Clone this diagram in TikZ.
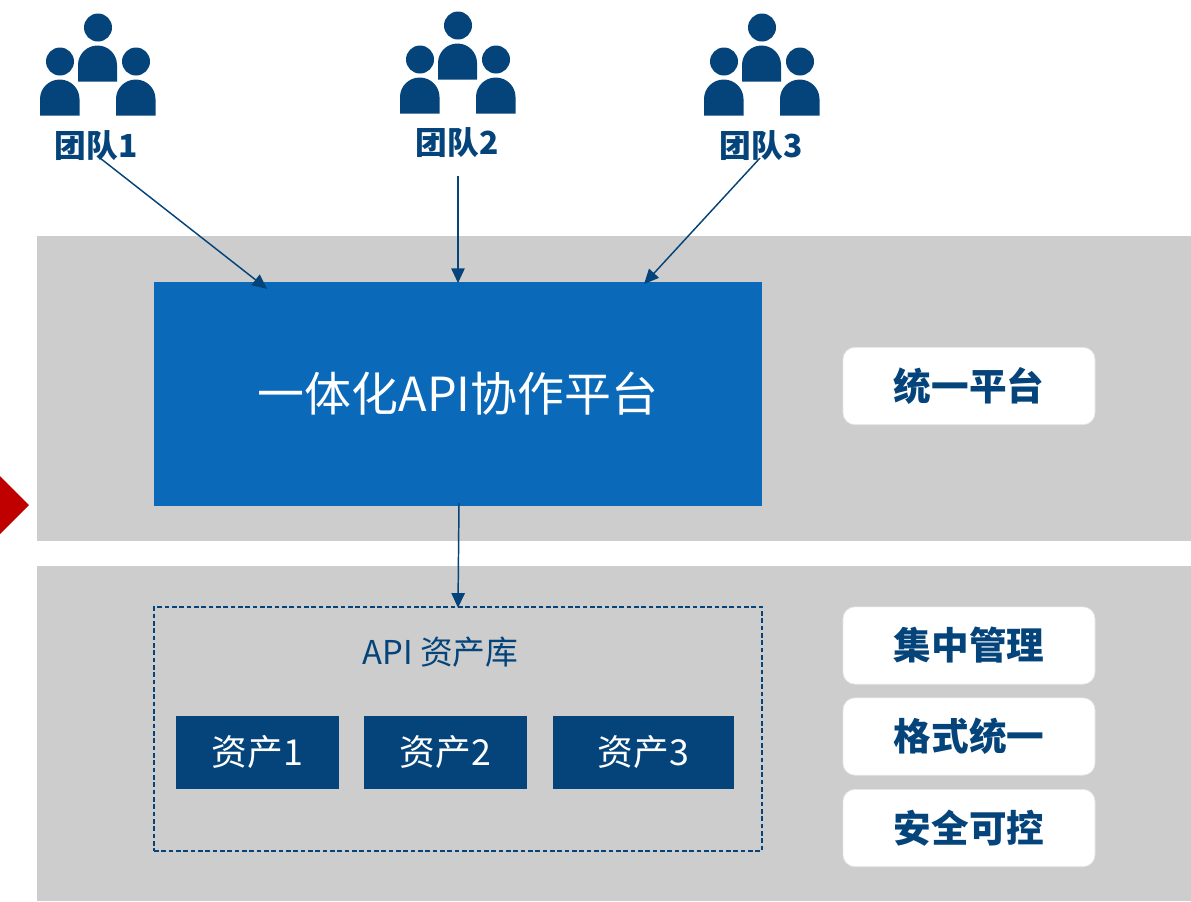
\documentclass[tikz,border=0pt]{standalone}
\usepackage{fontspec}
\setmainfont{Noto Sans CJK SC}
\usetikzlibrary{arrows.meta}
\definecolor{navy}{HTML}{04447A}
\definecolor{platblue}{HTML}{0B69B9}
\definecolor{band}{HTML}{CDCDCD}
\definecolor{redm}{HTML}{C00000}
\tikzset{
  x=0.75pt,y=-0.75pt,
  bandbox/.style={fill=band,draw=none},
  teamlabel/.style={text=navy,font=\fontsize{23.8}{26}\selectfont\bfseries,inner sep=0pt},
  flow/.style={draw=navy,line width=1.1pt,-{Triangle[length=11pt,width=10pt]},shorten >=-1pt},
  assetbox/.style={fill=navy,text=white,font=\fontsize{26.8}{30}\selectfont,minimum height=54.75pt,inner sep=0pt},
  tagbox/.style={fill=white,draw=band!50!white,line width=.5pt,rounded corners=9pt,text=navy,font=\fontsize{28.2}{31}\selectfont\bfseries,minimum width=189pt,minimum height=58pt,inner sep=0pt},
  person/.pic={
    \fill[navy] (0,27.5) circle[radius=14];
    \fill[navy] (-38,61.5) circle[radius=14];
    \fill[navy] (38,61.5) circle[radius=14];
    \fill[navy] (-20,81.5) -- (-20,65) arc[start angle=180,end angle=0,x radius=19.5,y radius=-19.5] -- (19,81.5) -- cycle;
    \fill[navy] (-58,115.5) -- (-58,99) arc[start angle=180,end angle=0,x radius=19.75,y radius=-19.5] -- (-18.5,115.5) -- cycle;
    \fill[navy] (18,115.5) -- (18,99) arc[start angle=180,end angle=0,x radius=19.75,y radius=-19.5] -- (57.5,115.5) -- cycle;
  }
}
\begin{document}
\begin{tikzpicture}
\useasboundingbox (0,0) rectangle (1191,901);
\fill[bandbox] (37,236) rectangle (1191,541);
\fill[bandbox] (37,566) rectangle (1191,901);
\fill[redm] (0,476) -- (29,505) -- (0,534) -- cycle;

\pic at (98,0) {person};
\pic at (458,-2) {person};
\pic at (762,0) {person};

\node[teamlabel] (t1) at (96,146) {团队1};
\node[teamlabel] (t2) at (457,143) {团队2};
\node[teamlabel] (t3) at (761,146) {团队3};

\node[fill=platblue,text=white,minimum width=456pt,minimum height=168pt,inner sep=0pt,font=\fontsize{35.2}{38}\selectfont] (plat) at (458,394) {一体化API协作平台};

\node[draw=navy,dash pattern=on 3.5pt off 2pt,line width=.8pt,minimum width=456pt,minimum height=183pt,inner sep=0pt] (lib) at (458,729) {};
\node[text=navy,font=\fontsize{24.6}{28}\selectfont,inner sep=0pt] (libt) at (440.5,652) {API 资产库};

\node[assetbox,minimum width=122.25pt] (a1) at (257.5,752.5) {资产1};
\node[assetbox,minimum width=122.25pt] (a2) at (445.5,752.5) {资产2};
\node[assetbox,minimum width=135.75pt] (a3) at (643.5,752.5) {资产3};

\node[tagbox] (s1) at (969,386) {统一平台};
\node[tagbox] (s2) at (969,645.5) {集中管理};
\node[tagbox] (s3) at (969,736.5) {格式统一};
\node[tagbox] (s4) at (969,828) {安全可控};

\coordinate (f1) at (100,158);
\coordinate (f2) at (458,176);
\coordinate (f3) at (760,158);
\coordinate (f4) at (459,503);
\coordinate (e1) at (266,288);
\coordinate (e3) at (645,283);
\draw[flow] (f1) -- (e1);
\draw[flow] (f2) -- (plat.north);
\draw[flow] (f3) -- (e3);
\draw[flow] (f4) -- (lib.north);
\end{tikzpicture}
\end{document}
